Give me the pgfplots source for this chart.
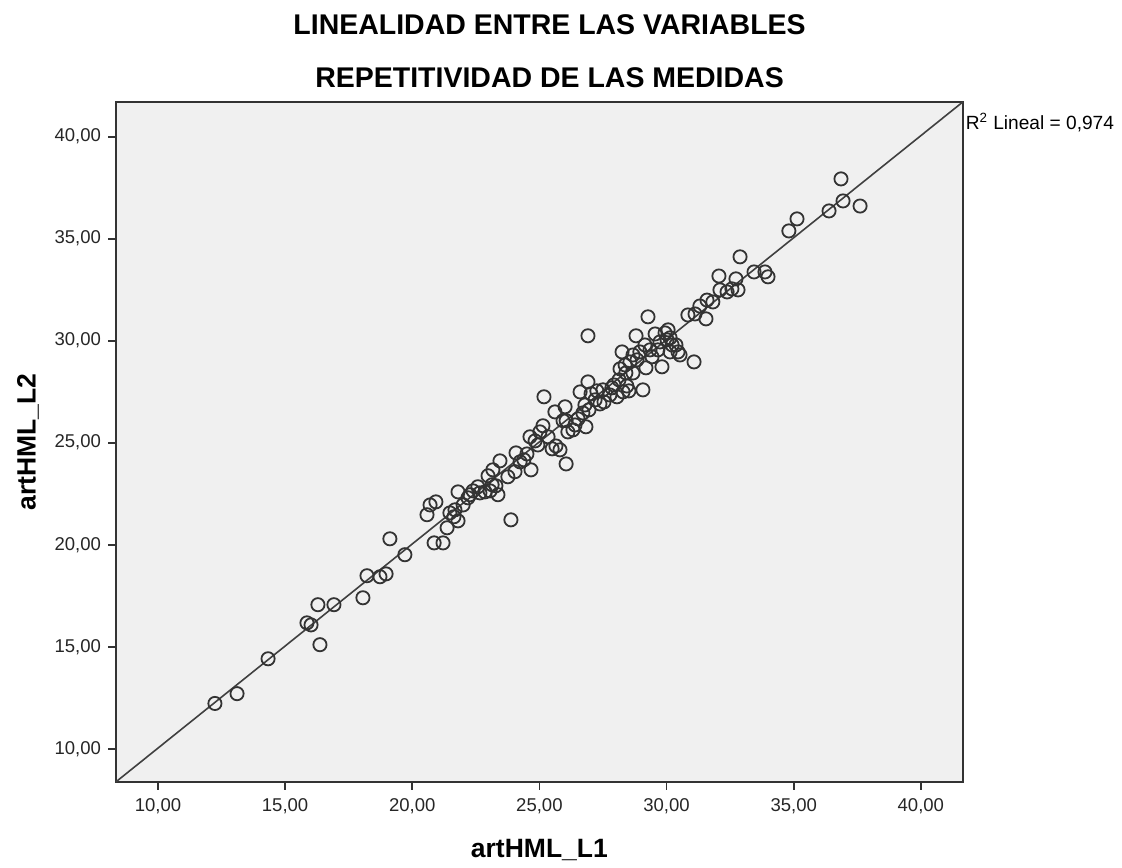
\documentclass[border=0pt]{standalone}
\usepackage{pgfplots}
\pgfplotsset{compat=1.18}
\usepackage{fontspec}
\setmainfont{Liberation Sans}

\definecolor{panelbg}{HTML}{F0F0F0}
\definecolor{axline}{HTML}{333333}

\begin{document}
\begin{tikzpicture}
\begin{axis}[
    scale only axis,
    width=423.5bp, height=340bp,
    xmin=8.35, xmax=41.65,
    ymin=8.38, ymax=41.70,
    xtick={10,15,...,40},
    ytick={10,15,...,40},
    tick align=outside,
    tick pos=left,
    major tick length=4bp,
    every tick/.style={axline, line width=0.9bp},
    axis line style={axline, line width=0.9bp},
    axis background/.style={fill=panelbg},
    /pgf/number format/.cd, fixed, fixed zerofill, precision=2, use comma, assume math mode=true,
    /pgfplots/.cd,
    tick label style={font=\fontsize{9.3}{11}\selectfont, text=black!85},
    xticklabel style={yshift=-1bp},
    xlabel={\textbf{artHML\_L1}},
    ylabel={\textbf{artHML\_L2}},
    every axis x label/.style={at={(axis description cs:0.5,-0.1)}, anchor=center,
        font=\fontsize{13.3}{15}\selectfont},
    every axis y label/.style={at={(axis description cs:-0.104,0.5)}, anchor=center, rotate=90,
        font=\fontsize{13.3}{15}\selectfont},
    clip=false,
]
% invisible frame that fixes the page size
\path (rel axis cs:-0.137,-0.125) rectangle (rel axis cs:1.188,1.150);

% fit line, R^2 = 0.974
\addplot[black!75, line width=0.8bp] coordinates {(8.35,8.38) (41.65,41.70)};

\addplot[only marks, mark=o, mark size=3.3bp,
         mark options={draw=black!80, line width=0.9bp}]
table{%
x y
12.24 12.22
13.11 12.70
14.33 14.41
15.86 16.17
16.02 16.07
16.29 17.06
16.37 15.10
16.92 17.06
18.06 17.40
18.22 18.48
18.73 18.43
18.97 18.57
19.12 20.29
19.71 19.51
20.58 21.47
20.70 21.95
20.93 22.10
20.86 20.09
21.21 20.09
21.37 20.83
21.48 21.56
21.64 21.37
21.80 21.17
21.80 22.59
22.00 21.95
22.19 22.30
22.39 22.64
22.66 22.54
22.86 22.59
22.98 23.38
23.06 22.64
23.14 22.94
23.29 22.89
23.37 22.45
23.45 24.11
23.88 21.22
24.04 23.58
24.08 24.50
24.39 24.16
24.51 24.45
24.63 25.29
24.67 23.67
24.83 25.09
24.94 24.89
25.14 25.83
25.18 27.25
25.34 25.29
25.50 24.70
25.61 26.51
25.65 24.84
25.81 24.65
25.93 26.08
26.05 26.08
26.01 26.76
26.05 23.96
26.32 25.63
26.52 26.17
26.60 27.49
26.71 26.46
26.83 25.78
26.91 30.24
26.95 26.61
26.91 27.98
27.03 27.40
27.19 27.10
27.26 27.54
27.38 26.90
27.54 27.00
27.77 27.34
27.93 27.83
28.05 27.25
28.13 28.08
28.17 28.62
28.25 29.45
28.29 27.49
28.40 28.42
28.44 27.78
28.52 27.54
28.56 28.96
28.68 28.42
28.80 30.24
28.84 29.06
28.95 29.45
29.07 27.59
29.19 28.67
29.27 31.17
29.35 29.55
29.43 29.21
29.55 30.33
29.74 29.94
29.82 28.72
29.94 30.38
30.02 30.04
30.06 30.53
30.14 29.45
30.22 29.79
30.37 29.79
30.45 29.45
30.53 29.30
31.08 28.96
30.84 31.26
31.12 31.31
31.31 31.70
31.55 31.07
31.59 31.99
31.82 31.90
32.06 33.17
32.10 32.49
32.38 32.39
32.57 32.54
32.73 33.03
32.81 32.49
32.89 34.11
33.44 33.37
33.87 33.37
33.99 33.13
34.81 35.38
35.13 35.97
36.39 36.36
36.86 37.93
36.94 36.85
37.61 36.60
27.85 27.69
28.37 28.81
28.68 29.30
29.15 29.79
29.66 29.55
30.14 30.14
26.40 25.87
26.12 25.53
26.79 26.85
27.50 27.59
25.02 25.53
24.24 24.06
23.76 23.33
23.17 23.67
22.58 22.84
22.27 22.45
21.68 21.71
};

\node[font=\bfseries\fontsize{14.3}{16}\selectfont] at (rel axis cs:0.512,1.113) {LINEALIDAD ENTRE LAS VARIABLES};
\node[font=\bfseries\fontsize{14.3}{16}\selectfont] at (rel axis cs:0.512,1.035) {REPETITIVIDAD DE LAS MEDIDAS};
\node[anchor=west, inner sep=0pt, font=\fontsize{9.6}{11}\selectfont] at (rel axis cs:1.003,0.970) {R\textsuperscript{2} Lineal = 0,974};
\end{axis}
\end{tikzpicture}
\end{document}
